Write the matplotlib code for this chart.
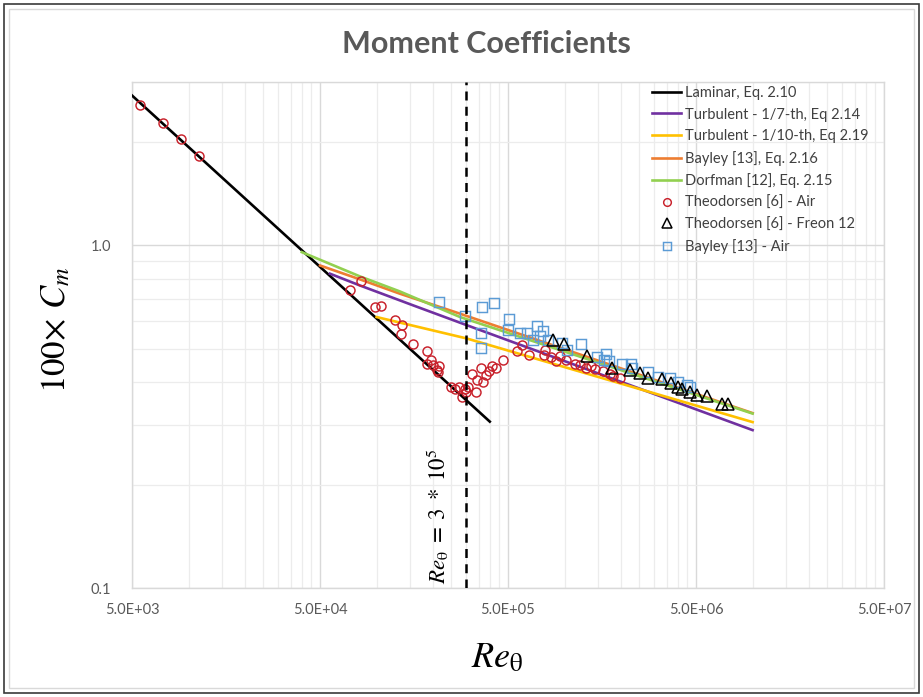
import matplotlib
matplotlib.use("Agg")
import matplotlib.pyplot as plt
from matplotlib.ticker import FixedLocator, NullFormatter, FixedFormatter
from matplotlib.patches import Rectangle
import numpy as np

plt.rcParams['font.family'] = ['Lato', 'DejaVu Sans']
plt.rcParams['mathtext.fontset'] = 'stix'

# ---------------- data ----------------
lam_re = [5.0e3, 4.0e5]
lam_cm = [2.74, 0.306]

t7_re = [5.65e4, 8.16e4, 1.57e5, 3.02e5, 1.0e7]
t7_cm = [0.827, 0.764, 0.668, 0.585, 0.289]

t10_re = [1.0e5, 3.02e5, 1.0e7]
t10_cm = [0.618, 0.535, 0.305]

bay_re = [5.0e4, 8.16e4, 1.33e5, 2.78e5, 1.0e7]
bay_cm = [0.874, 0.796, 0.723, 0.632, 0.324]

dorf_re = [4.0e4, 8.16e4, 1.33e5, 2.78e5, 6.55e5, 1.0e7]
dorf_cm = [0.956, 0.812, 0.734, 0.618, 0.529, 0.323]

theo_air_re = [5.5e3, 7.3e3, 9.15e3, 1.13e4,
               7.2e4, 8.26e4, 9.8e4, 1.05e5, 1.25e5, 1.36e5, 1.35e5, 1.57e5,
               1.85e5, 1.94e5, 1.85e5, 2.0e5, 2.15e5, 2.1e5, 2.13e5,
               2.5e5, 2.6e5, 2.75e5, 2.95e5, 3.07e5, 2.85e5, 2.99e5,
               3.2e5, 3.6e5, 3.4e5, 3.38e5, 3.7e5, 3.8e5, 3.97e5, 4.1e5, 4.3e5,
               4.7e5, 5.56e5, 5.96e5, 6.5e5, 7.87e5, 7.76e5, 8.43e5, 9.0e5,
               9.4e5, 1.02e6, 1.14e6, 1.21e6, 1.30e6, 1.38e6, 1.46e6, 1.6e6,
               1.74e6, 1.82e6, 1.97e6]
theo_air_cm = [2.57, 2.28, 2.04, 1.83,
               0.739, 0.787, 0.661, 0.667, 0.604, 0.585, 0.553, 0.517,
               0.492, 0.464, 0.450, 0.447, 0.445, 0.432, 0.427,
               0.386, 0.382, 0.385, 0.382, 0.386, 0.361, 0.373,
               0.421, 0.440, 0.404, 0.373, 0.400, 0.418, 0.430, 0.444, 0.440,
               0.462, 0.492, 0.511, 0.480, 0.496, 0.480, 0.472, 0.460,
               0.476, 0.464, 0.450, 0.447, 0.440, 0.444, 0.437, 0.430,
               0.421, 0.415, 0.410]

theo_fr_re = [8.65e5, 9.93e5, 1.32e6, 1.78e6, 2.23e6, 2.52e6, 2.79e6, 3.29e6,
              3.67e6, 4.03e6, 4.2e6, 4.65e6, 5.04e6, 5.7e6, 6.85e6, 7.43e6]
theo_fr_cm = [0.529, 0.514, 0.475, 0.440, 0.432, 0.423, 0.411, 0.407,
              0.397, 0.386, 0.382, 0.374, 0.365, 0.364, 0.345, 0.344]

bay_air_re = [2.16e5, 2.95e5, 3.62e5, 4.21e5, 3.58e5, 3.58e5, 5.06e5, 5.0e5,
              5.79e5, 6.29e5, 6.76e5, 7.16e5, 7.65e5, 7.4e5, 8.19e5, 9.65e5,
              1.03e6, 1.23e6, 1.48e6, 1.66e6, 1.62e6, 1.73e6, 2.03e6, 2.25e6,
              2.27e6, 2.79e6, 3.15e6, 3.64e6, 4.03e6, 4.46e6, 4.65e6]
bay_air_cm = [0.684, 0.621, 0.661, 0.679, 0.555, 0.503, 0.611, 0.568,
              0.555, 0.555, 0.528, 0.581, 0.562, 0.543, 0.528, 0.519,
              0.494, 0.514, 0.472, 0.481, 0.464, 0.460, 0.450, 0.452,
              0.440, 0.427, 0.413, 0.409, 0.400, 0.391, 0.386]

re_crit = 3.0e5

xtick_vals = [5e3, 5e4, 5e5, 5e6, 5e7]
xtick_labels = ["5.0E+03", "5.0E+04", "5.0E+05", "5.0E+06", "5.0E+07"]
ytick_vals = [0.1, 1.0]
ytick_labels = ["0.1", "1.0"]

labels = ["Laminar, Eq. 2.10", "Turbulent - 1/7-th, Eq 2.14",
          "Turbulent - 1/10-th, Eq 2.19", "Bayley [13], Eq. 2.16",
          "Dorfman [12], Eq. 2.15", "Theodorsen [6] - Air",
          "Theodorsen [6] - Freon 12", "Bayley [13] - Air"]

# ---------------- figure ----------------
W, H = 923, 697
fig = plt.figure(figsize=(W / 100, H / 100), dpi=100)
fig.patch.set_facecolor('white')

# outer frame
fig.add_artist(Rectangle((4 / W, 4 / H), (W - 8) / W, (H - 8) / H, transform=fig.transFigure,
                         fill=False, edgecolor='#3a3a3a', linewidth=1.2))
fig.add_artist(Rectangle((9 / W, 9 / H), (W - 18) / W, (H - 18) / H, transform=fig.transFigure,
                         fill=False, edgecolor='#d9d9d9', linewidth=1.0))

ax = fig.add_axes([132 / W, 1 - 588 / H, 752 / W, 506 / H])
ax.set_xscale('log')
ax.set_yscale('log')
ax.set_xlim(5e3, 5e7)
ax.set_ylim(0.1, 3.0)

# ticks / grid
ax.xaxis.set_major_locator(FixedLocator(xtick_vals))
ax.xaxis.set_major_formatter(FixedFormatter(xtick_labels))
xminor = [5e3 * k * 10 ** n for n in range(4) for k in range(2, 10)]
ax.xaxis.set_minor_locator(FixedLocator(xminor))
ax.xaxis.set_minor_formatter(NullFormatter())
ax.yaxis.set_major_locator(FixedLocator(ytick_vals))
ax.yaxis.set_major_formatter(FixedFormatter(ytick_labels))
yminor = [0.1 * k for k in range(2, 10)] + [2.0, 3.0]
ax.yaxis.set_minor_locator(FixedLocator(yminor))
ax.yaxis.set_minor_formatter(NullFormatter())
ax.tick_params(which='both', length=0)
ax.tick_params(axis='x', pad=11, labelsize=10.5, labelcolor='#595959')
ax.tick_params(axis='y', pad=15, labelsize=10.5, labelcolor='#595959')
ax.grid(which='major', color='#d9d9d9', linewidth=1.0)
ax.grid(which='minor', color='#ececec', linewidth=0.9)
ax.set_axisbelow(True)
for s in ax.spines.values():
    s.set_color('#d9d9d9')
    s.set_linewidth(1.0)

lw = 1.9
ax.plot(lam_re, lam_cm, color='black', lw=lw, label=labels[0], zorder=3)
ax.plot(t7_re, t7_cm, color='#7030a0', lw=lw, label=labels[1], zorder=3)
ax.plot(t10_re, t10_cm, color='#ffc000', lw=lw, label=labels[2], zorder=3)
ax.plot(bay_re, bay_cm, color='#ed7d31', lw=lw, label=labels[3], zorder=3)
ax.plot(dorf_re, dorf_cm, color='#92d050', lw=lw, label=labels[4], zorder=3)
ax.plot(theo_air_re, theo_air_cm, ls='none', marker='o', ms=6.5, mfc='none',
        mec='#c8202a', mew=1.05, label=labels[5], zorder=4)
ax.plot(theo_fr_re, theo_fr_cm, ls='none', marker='^', ms=8, mfc='none',
        mec='black', mew=1.1, label=labels[6], zorder=5)
ax.plot(bay_air_re, bay_air_cm, ls='none', marker='s', ms=6.5, mfc='none',
        mec='#5b9bd5', mew=1.05, label=labels[7], zorder=4)

ax.axvline(re_crit, color='black', lw=1.8, dashes=(3.6, 2.5), zorder=6)
ax.text(2.1e5, 0.103, r'$Re_{\mathrm{θ}}\;=\;3\;*\;10^{5}$', rotation=90, ha='center',
        va='bottom', fontsize=16.5, color='black', zorder=7)

leg = ax.legend(loc='upper left', bbox_to_anchor=(652 / W, 1 - 86 / H),
                bbox_transform=fig.transFigure, frameon=False, borderpad=0,
                handlelength=2.0, handletextpad=0.25, labelspacing=0.52,
                fontsize=10.5, numpoints=1, borderaxespad=0, markerscale=0.85)
for t in leg.get_texts():
    t.set_color('#404040')

fig.text(486 / W, 1 - 44 / H, 'Moment Coefficients', ha='center', va='center',
         fontsize=22, fontweight='bold', color='#595959')
fig.text(56 / W, 1 - 330 / H, r'$100\!\times\,C_m$', rotation=90, ha='center', va='center',
         fontsize=25, color='black')
fig.text(497 / W, 1 - 657 / H, r'$Re_{\mathrm{θ}}$', ha='center', va='center',
         fontsize=26, color='black')

fig.savefig('out.png', dpi=100)
